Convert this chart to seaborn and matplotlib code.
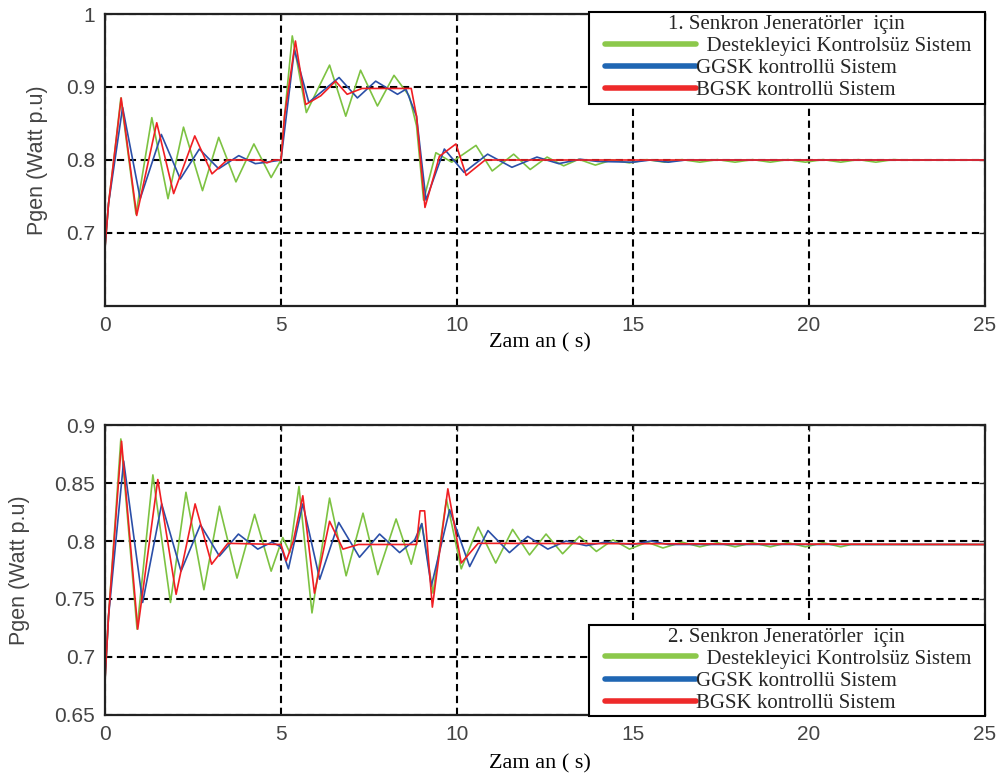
"""
Pgen response of the two synchronous generators
"""

import pandas as pd
import matplotlib.pyplot as plt
from matplotlib.lines import Line2D
from matplotlib.legend_handler import HandlerLine2D
import seaborn as sns

sns.set_theme(style="white")
plt.rcParams["font.family"] = ["Liberation Sans", "DejaVu Sans"]

# ---------------------------------------------
# Data
# ---------------------------------------------

SERIES = ["Destekleyici Kontrolsüz Sistem", "GGSK kontrollü Sistem", "BGSK kontrollü Sistem"]
COLORS = ["#7dc242", "#2b4fa8", "#f01e23"]
LEGEND_COLORS = ["#8cc84b", "#1f66b3", "#ee2a2a"]

# generator 1
g1_green_t = [0, 0.1, 0.25, 0.45, 0.88, 1.33, 1.79, 2.23, 2.77, 3.23, 3.72, 4.23, 4.72, 5.0, 5.1,
              5.32, 5.72, 6.38, 6.84, 7.26, 7.74, 8.21, 8.64, 8.85, 9.05, 9.4, 9.85, 10.54, 11.0,
              11.61, 12.08, 12.56, 13.03, 13.46, 13.93, 14.4, 14.9, 15.4, 15.9, 16.4, 16.9, 17.4,
              17.9, 18.4, 18.9, 19.4, 19.9, 20.4, 20.9, 21.4, 21.9, 22.4, 22.7, 25]
g1_green_v = [0.68, 0.74, 0.80, 0.885, 0.726, 0.858, 0.747, 0.845, 0.758, 0.831, 0.770, 0.822, 0.776,
              0.80, 0.86, 0.97, 0.865, 0.93, 0.86, 0.923, 0.874, 0.916, 0.888, 0.847, 0.745, 0.81,
              0.797, 0.82, 0.785, 0.808, 0.787, 0.804, 0.792, 0.801, 0.793, 0.800, 0.796, 0.8005,
              0.797, 0.8005, 0.797, 0.8005, 0.797, 0.8005, 0.797, 0.8005, 0.797, 0.8005, 0.797,
              0.8005, 0.797, 0.8005, 0.80, 0.80]

g1_blue_t = [0, 0.1, 0.5, 1.0, 1.6, 2.14, 2.68, 3.23, 3.8, 4.27, 4.6, 5.0, 5.1, 5.38, 5.79, 6.65,
             7.17, 7.69, 8.31, 8.55, 8.85, 9.12, 9.64, 10.2, 10.87, 11.56, 12.27, 12.89, 13.5, 14.0,
             15.0, 15.5, 16.0, 16.5, 25]
g1_blue_v = [0.68, 0.74, 0.872, 0.747, 0.835, 0.774, 0.815, 0.788, 0.806, 0.795, 0.797, 0.80, 0.84,
             0.951, 0.879, 0.913, 0.885, 0.908, 0.89, 0.897, 0.86, 0.745, 0.815, 0.783, 0.808, 0.79,
             0.804, 0.795, 0.801, 0.798, 0.797, 0.800, 0.797, 0.800, 0.800]

g1_red_t = [0, 0.1, 0.46, 0.9, 1.47, 1.95, 2.55, 3.04, 3.47, 4.4, 4.6, 4.8, 5.0, 5.1, 5.41, 5.7,
            6.13, 6.55, 6.88, 7.3, 8.7, 8.85, 9.09, 9.5, 9.97, 10.26, 10.8, 25]
g1_red_v = [0.68, 0.74, 0.885, 0.724, 0.851, 0.754, 0.833, 0.781, 0.80, 0.80, 0.796, 0.80, 0.80,
            0.86, 0.963, 0.876, 0.888, 0.908, 0.89, 0.898, 0.898, 0.86, 0.735, 0.805, 0.822, 0.779,
            0.80, 0.80]

# generator 2
g2_green_t = [0, 0.1, 0.25, 0.45, 0.91, 1.36, 1.86, 2.3, 2.81, 3.25, 3.75, 4.25, 4.72, 5.05, 5.25,
              5.51, 5.88, 6.38, 6.85, 7.33, 7.75, 8.27, 8.7, 9.0, 9.32, 9.7, 10.12, 10.6, 11.1,
              11.58, 12.06, 12.53, 13.0, 13.48, 13.96, 14.43, 14.9, 15.4, 15.85, 16.4, 16.9, 17.4,
              17.9, 18.4, 18.9, 19.4, 19.9, 20.4, 20.9, 21.2, 25]
g2_green_v = [0.68, 0.735, 0.80, 0.888, 0.724, 0.857, 0.747, 0.842, 0.758, 0.83, 0.768, 0.823, 0.774,
              0.803, 0.79, 0.847, 0.738, 0.837, 0.77, 0.824, 0.771, 0.819, 0.78, 0.815, 0.755, 0.836,
              0.776, 0.812, 0.781, 0.81, 0.788, 0.806, 0.789, 0.804, 0.791, 0.801, 0.793, 0.799,
              0.794, 0.799, 0.795, 0.7985, 0.795, 0.7985, 0.795, 0.7985, 0.795, 0.7985, 0.795,
              0.797, 0.797]

g2_blue_t = [0, 0.1, 0.53, 1.07, 1.61, 2.16, 2.71, 3.25, 3.79, 4.34, 4.74, 5.0, 5.21, 5.62, 6.1,
             6.64, 7.23, 7.8, 8.37, 8.8, 9.0, 9.27, 9.79, 10.36, 10.88, 11.49, 12.01, 12.58, 13.1,
             13.67, 14.2, 15.0, 15.5, 16.0, 25]
g2_blue_v = [0.68, 0.735, 0.869, 0.747, 0.832, 0.774, 0.814, 0.787, 0.806, 0.793, 0.799, 0.795,
             0.776, 0.832, 0.767, 0.816, 0.786, 0.806, 0.79, 0.801, 0.815, 0.761, 0.827, 0.778,
             0.809, 0.79, 0.804, 0.793, 0.80, 0.796, 0.799, 0.797, 0.80, 0.797, 0.797]

g2_red_t = [0, 0.1, 0.47, 0.93, 1.5, 2.02, 2.56, 3.03, 3.49, 5.0, 5.15, 5.35, 5.62, 5.95, 6.38,
            6.76, 7.2, 8.85, 8.95, 9.08, 9.3, 9.74, 10.12, 10.6, 25]
g2_red_v = [0.68, 0.735, 0.886, 0.724, 0.853, 0.754, 0.832, 0.78, 0.798, 0.797, 0.783, 0.80, 0.839,
            0.755, 0.817, 0.793, 0.797, 0.797, 0.826, 0.826, 0.743, 0.845, 0.781, 0.798, 0.797]

X_TICKS = [0, 5, 10, 15, 20, 25]
G1_Y_TICKS = [0.7, 0.8, 0.9, 1.0]
G1_Y_LABELS = ["0.7", "0.8", "0.9", "1"]
G2_Y_TICKS = [0.65, 0.7, 0.75, 0.8, 0.85, 0.9]
G2_Y_LABELS = ["0.65", "0.7", "0.75", "0.8", "0.85", "0.9"]


def to_frame(parts):
    frames = []
    for name, t, v in parts:
        frames.append(pd.DataFrame({"t": t, "v": v, "series": name}))
    return pd.concat(frames, ignore_index=True)


g1 = to_frame([(SERIES[0], g1_green_t, g1_green_v),
               (SERIES[1], g1_blue_t, g1_blue_v),
               (SERIES[2], g1_red_t, g1_red_v)])
g2 = to_frame([(SERIES[0], g2_green_t, g2_green_v),
               (SERIES[1], g2_blue_t, g2_blue_v),
               (SERIES[2], g2_red_t, g2_red_v)])

# ---------------------------------------------
# Figure
# ---------------------------------------------

fig = plt.figure(figsize=(10, 7.78), dpi=100)
ax1 = fig.add_axes([0.105, 0.6067, 0.88, 0.3753])
ax2 = fig.add_axes([0.105, 0.081, 0.88, 0.3727])

serif = ["Liberation Serif", "DejaVu Serif"]


def style_axis(ax, df, ylim, yticks, ylabels, label_x, xlabel_y, title, legend_loc, legend_anchor):
    sns.lineplot(data=df, x="t", y="v", hue="series", hue_order=SERIES,
                 palette=COLORS, estimator=None, sort=False, linewidth=1.2,
                 legend=False, ax=ax)
    ax.set_xlim(0, 25)
    ax.set_ylim(*ylim)
    ax.set_xticks(X_TICKS)
    ax.set_xticklabels([str(x) for x in X_TICKS])
    ax.set_yticks(yticks)
    ax.set_yticklabels(ylabels)
    ax.grid(True, color="black", linestyle=(0, (3.5, 2.2)), linewidth=1.5)
    ax.tick_params(direction="in", length=4, width=1, top=True, right=True,
                   labelsize=15, labelcolor="#444444", pad=7)
    for sp in ax.spines.values():
        sp.set_color("#222222")
        sp.set_linewidth(1.6)

    ax.set_ylabel("Pgen (Watt p.u)", fontsize=15.5, color="#444444")
    ax.yaxis.set_label_coords(label_x, 0.5)
    ax.set_xlabel("Zam an ( s)", fontsize=16, family=serif, color="black")
    ax.xaxis.set_label_coords(0.494, xlabel_y)

    handles = [Line2D([], [], color=c, linewidth=4) for c in LEGEND_COLORS]
    labels = ["  " + SERIES[0] + "  ", SERIES[1], SERIES[2]]
    leg = ax.legend(handles, labels, title=title, loc=legend_loc,
                    bbox_to_anchor=legend_anchor, bbox_transform=fig.transFigure,
                    borderaxespad=0, frameon=True, fancybox=False, framealpha=1,
                    edgecolor="black", prop={"family": serif, "size": 15},
                    title_fontproperties={"family": serif, "size": 15},
                    handlelength=5.0, handletextpad=0.0, labelspacing=0.12,
                    borderpad=0.15, handler_map={Line2D: HandlerLine2D(xpad=0.65)})
    leg.get_frame().set_linewidth(1.5)


style_axis(ax1, g1, (0.6, 1.0), G1_Y_TICKS, G1_Y_LABELS, -0.065, -0.095,
           "1. Senkron Jeneratörler  için", "upper right", (0.985, 1 - 12 / 778))
style_axis(ax2, g2, (0.65, 0.9), G2_Y_TICKS, G2_Y_LABELS, -0.085, -0.135,
           "2. Senkron Jeneratörler  için", "lower right", (0.985, 1 - 716 / 778))

fig.savefig("out.png", dpi=100)
plt.close(fig)
